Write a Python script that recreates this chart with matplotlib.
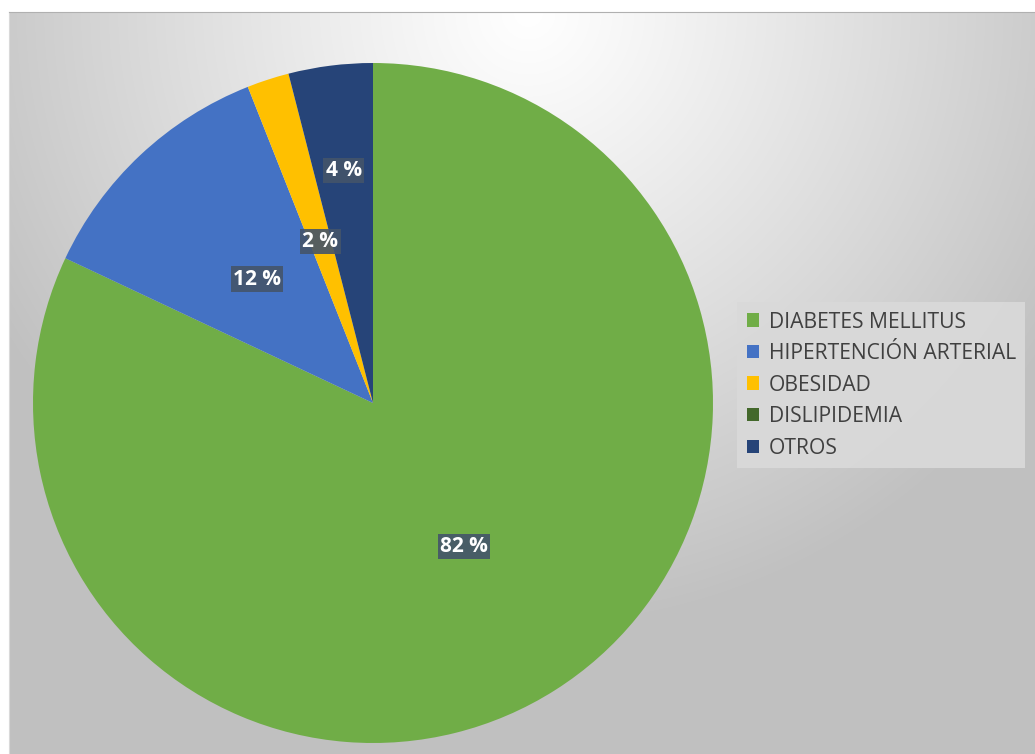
import numpy as np
import matplotlib.pyplot as plt

categorias = ['DIABETES MELLITUS', 'HIPERTENCIÓN ARTERIAL', 'OBESIDAD', 'DISLIPIDEMIA', 'OTROS']
porcentajes = [82, 12, 2, 0, 4]
colores = ['#70AD47', '#4472C4', '#FFC000', '#43682B', '#264478']

W, H = 1035, 754
fig = plt.figure(figsize=(W / 100, H / 100), dpi=100)
fig.patch.set_facecolor('white')

# fondo del area del grafico: degradado radial blanco -> gris
bg = fig.add_axes([9 / W, 0, 1 - 9 / W, 1 - 12 / H])
xs = np.arange(9, W)
ys = np.arange(12, H)
X, Y = np.meshgrid(xs, ys)
r = np.hypot(X - 528, Y - 12) / 620
val = 255 - 63 * np.clip(r, 0, 1) ** 1.1
img = np.dstack([val, val, val]) / 255
bg.imshow(img, extent=(9, W, H, 12), aspect='auto', interpolation='bilinear')
bg.set_xticks([])
bg.set_yticks([])
for s in ['right', 'bottom']:
    bg.spines[s].set_visible(False)
bg.spines['top'].set_color('#b0b0b0')
bg.spines['left'].set_color('#d9d9d9')

# torta
cx, cy, rad = 373, 403, 340
ax = fig.add_axes([(cx - rad) / W, 1 - (cy + rad) / H, 2 * rad / W, 2 * rad / H])
wedges, texts, autotexts = ax.pie(
    porcentajes, colors=colores, startangle=90, counterclock=False,
    autopct=lambda p: f'{p:.0f} %' if p > 0.5 else '', pctdistance=0.5,
    wedgeprops=dict(linewidth=0), radius=1)
ax.set_xlim(-1, 1)
ax.set_ylim(-1, 1)
ax.set_aspect('equal')
ax.axis('off')

for t in autotexts:
    t.set_color('white')
    t.set_fontsize(15)
    t.set_fontweight('bold')
    t.set_family(['Open Sans', 'DejaVu Sans'])
    t.set_bbox(dict(facecolor='#44546A', edgecolor='none', alpha=0.9, pad=1.5))

# la etiqueta de OTROS va mas afuera para no chocar con la de OBESIDAD
w = wedges[4]
ang = np.deg2rad((w.theta1 + w.theta2) / 2)
autotexts[4].set_position((0.69 * np.cos(ang), 0.69 * np.sin(ang)))

leg = fig.legend(wedges, categorias, loc='upper left', bbox_to_anchor=(737 / W, 1 - 302 / H),
                 borderaxespad=0, frameon=True, fancybox=False,
                 handlelength=0.6, handleheight=0.6, handletextpad=0.45,
                 labelspacing=0.5, borderpad=0.45,
                 prop=dict(family=['Open Sans', 'DejaVu Sans'], size=15.2))
leg.get_frame().set_facecolor('#d9d9d9')
leg.get_frame().set_edgecolor('none')
leg.get_frame().set_alpha(0.95)
for t in leg.get_texts():
    t.set_color('#404040')

fig.savefig('out.png', dpi=100)
